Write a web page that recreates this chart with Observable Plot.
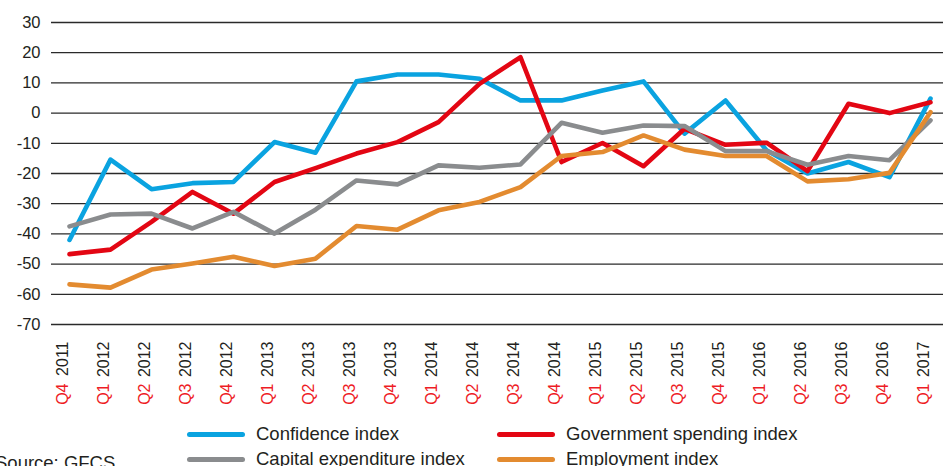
<!DOCTYPE html>
<html><head><meta charset="utf-8">
<script src="https://cdn.jsdelivr.net/npm/d3@7"></script>
<script src="https://cdn.jsdelivr.net/npm/@observablehq/plot@0.6"></script>
<style>
body{margin:0;background:#fff;font-family:"Liberation Sans",Arial,sans-serif;color:#231f20;}
#wrap{position:relative;width:951px;height:466px;overflow:hidden;}
#chart{position:absolute;left:0;top:0;}
.leg{position:absolute;display:flex;align-items:center;font-size:18.5px;line-height:20px;height:20px;white-space:nowrap;color:#231f20}
.sw{display:inline-block;width:58px;height:5px;border-radius:3px;margin-right:11px}
#src{position:absolute;left:-5px;top:452px;font-size:18.5px;color:#231f20;white-space:nowrap}
</style></head><body><div id="wrap"><div id="chart"></div></div>
<script>
const quarters = ["Q4","Q1","Q2","Q3","Q4","Q1","Q2","Q3","Q4","Q1","Q2","Q3","Q4","Q1","Q2","Q3","Q4","Q1","Q2","Q3","Q4","Q1"];
const years = ["2011","2012","2012","2012","2012","2013","2013","2013","2013","2014","2014","2014","2014","2015","2015","2015","2015","2016","2016","2016","2016","2017"];
const seriesNames = ["Confidence index","Government spending index","Capital expenditure index","Employment index"];
const seriesColors = ["#0aa3e0","#e30613","#8a8c8e","#e38b30"];
const confidence = [-42,-15.4,-25.2,-23.2,-22.8,-9.6,-13.1,10.5,12.8,12.8,11.4,4.2,4.2,7.5,10.5,-6.8,4.2,-12.3,-20,-16.2,-21.2,4.8];
const government = [-46.7,-45.2,-36,-26.1,-33.3,-22.8,-18.2,-13.4,-9.6,-3,9.7,18.5,-16.2,-9.9,-17.6,-5.2,-10.5,-9.8,-19.2,3.1,0,3.6];
const capex = [-37.5,-33.6,-33.3,-38.2,-32.7,-39.9,-32,-22.3,-23.6,-17.3,-18.1,-17,-3.2,-6.5,-4.1,-4.3,-12.6,-12.6,-17.1,-14.2,-15.6,-2.4];
const employment = [-56.7,-57.8,-51.8,-49.8,-47.6,-50.6,-48.2,-37.4,-38.6,-32.2,-29.4,-24.5,-14.2,-12.9,-7.4,-12.1,-14.2,-14.2,-22.6,-21.9,-19.8,0.3];
const yTicks = [-70,-60,-50,-40,-30,-20,-10,0,10,20,30];

const periods = quarters.map((q,i)=>q+" "+years[i]);
const allSeries = [confidence, government, capex, employment];
const rows = [];
allSeries.forEach((vals,s)=>vals.forEach((v,i)=>rows.push({period:periods[i], value:v, series:seriesNames[s]})));

const chart = Plot.plot({
  width:951, height:415, marginTop:22, marginBottom:91, marginLeft:51, marginRight:8,
  style:{fontFamily:"Liberation Sans, Arial, sans-serif", fontSize:"16.5px", color:"#231f20", background:"#fff"},
  x:{type:"point", domain:periods, range:[66,932], padding:0, axis:null},
  y:{domain:[-70,30], ticks:yTicks, tickSize:0, tickPadding:11, label:null, tickFormat:d=>String(d)},
  color:{domain:seriesNames, range:seriesColors},
  marks:[
    Plot.ruleY(yTicks, {stroke:"#2a2a2a", strokeWidth:1.3}),
    Plot.line(rows, {x:"period", y:"value", z:"series", stroke:"series", strokeWidth:4.6, strokeLinejoin:"round", strokeLinecap:"round"}),
    Plot.text(periods, {x:d=>d, frameAnchor:"bottom", text:(d,i)=>years[i], rotate:-90, textAnchor:"end", dy:17, dx:-2, fill:"#231f20", fontSize:16}),
    Plot.text(periods, {x:d=>d, frameAnchor:"bottom", text:(d,i)=>quarters[i], rotate:-90, textAnchor:"end", dy:59, dx:-2, fill:"#ee1c25", fontSize:16})
  ]
});
const wrap = document.getElementById("wrap");
document.getElementById("chart").appendChild(chart);

const legPos = [[187,424],[497,424],[187,449],[497,449]];
seriesNames.forEach((name,i)=>{
  const d = document.createElement("div");
  d.className = "leg";
  d.style.left = legPos[i][0]+"px";
  d.style.top = legPos[i][1]+"px";
  const sw = document.createElement("span");
  sw.className = "sw";
  sw.style.background = seriesColors[i];
  d.appendChild(sw);
  d.appendChild(document.createTextNode(name));
  wrap.appendChild(d);
});
const src = document.createElement("div");
src.id = "src";
src.textContent = "Source: GFCS";
wrap.appendChild(src);
</script>
</body></html>
